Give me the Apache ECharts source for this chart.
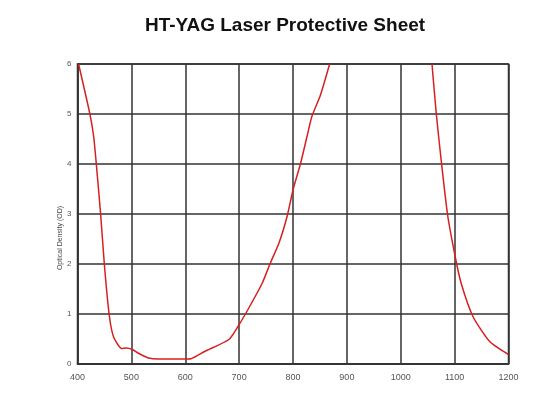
<!DOCTYPE html>
<html>
<head>
<meta charset="utf-8">
<script src="https://cdn.jsdelivr.net/npm/echarts@6/dist/echarts.min.js"></script>
<style>html,body{margin:0;padding:0;background:#fff;}#c{width:550px;height:406px;}</style>
</head>
<body>
<div id="c"></div>
<script>
const chartTitle = 'HT-YAG Laser Protective Sheet';
const yAxisName = 'Optical Density (OD)';
// Left band: wavelength (nm) and optical density
const leftWavelength = [402, 423, 430, 435, 443, 450, 459, 467, 482, 491, 502, 514, 532, 550, 600, 612, 636, 681, 700, 718, 743, 758, 774, 789, 800, 814, 826, 835, 851, 868];
const leftOD = [6.0, 5.0, 4.55, 3.99, 2.99, 1.97, 0.97, 0.54, 0.31, 0.32, 0.29, 0.21, 0.12, 0.10, 0.10, 0.11, 0.25, 0.49, 0.79, 1.12, 1.62, 2.02, 2.42, 2.95, 3.48, 4.01, 4.55, 4.95, 5.38, 6.0];
// Right band
const rightWavelength = [1058, 1066, 1076, 1087, 1101, 1112, 1134, 1165, 1200];
const rightOD = [6.0, 5.0, 3.98, 2.98, 2.15, 1.62, 0.95, 0.45, 0.19];
const xTicks = [400, 500, 600, 700, 800, 900, 1000, 1100, 1200];
const yTicks = [0, 1, 2, 3, 4, 5, 6];

const data = leftWavelength.map((w, i) => [w, leftOD[i]])
  .concat([[960, '-']])
  .concat(rightWavelength.map((w, i) => [w, rightOD[i]]));

const chart = echarts.init(document.getElementById('c'));
chart.setOption({
  animation: false,
  title: {
    text: chartTitle, left: 280, textAlign: 'center', top: 11,
    textStyle: { fontFamily: 'Liberation Sans, Arial', fontWeight: 'bold', fontSize: 19, color: '#111' }
  },
  graphic: [{
    type: 'text', x: 60, y: 238, rotation: Math.PI / 2,
    style: { text: yAxisName, fill: '#444', fontSize: 7, fontFamily: 'Liberation Sans, Arial', align: 'center', verticalAlign: 'middle' }
  }],
  grid: { left: 77.5, right: 41.5, top: 64, bottom: 42, show: true, borderColor: '#333', borderWidth: 1.5 },
  xAxis: {
    type: 'value', min: xTicks[0], max: xTicks[xTicks.length - 1], interval: 100,
    axisLine: { show: true, lineStyle: { color: '#333', width: 1.5 } },
    axisTick: { show: false },
    splitLine: { show: true, lineStyle: { color: '#333', width: 1.5 } },
    axisLabel: { color: '#555', fontSize: 9, fontFamily: 'Liberation Sans, Arial', margin: 9, formatter: v => String(v) }
  },
  yAxis: {
    type: 'value', min: yTicks[0], max: yTicks[yTicks.length - 1], interval: 1,
    axisLine: { show: true, lineStyle: { color: '#333', width: 1.5 } },
    axisTick: { show: false },
    splitLine: { show: true, lineStyle: { color: '#333', width: 1.5 } },
    axisLabel: { color: '#555', fontSize: 8, fontFamily: 'Liberation Sans, Arial', margin: 6 }
  },
  series: [{
    type: 'line', data: data, showSymbol: false, smooth: 0.2, connectNulls: false,
    lineStyle: { color: '#d62020', width: 1.5 }, clip: true
  }]
});
</script>
</body>
</html>
